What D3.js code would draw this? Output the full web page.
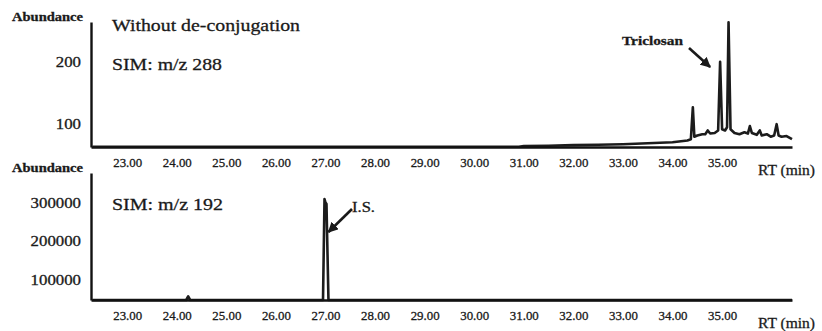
<!DOCTYPE html>
<html>
<head>
<meta charset="utf-8">
<script src="https://cdn.jsdelivr.net/npm/d3@7"></script>
<style>
  body { margin: 0; background: #fff; }
  svg { display: block; }
  text { font-family: "Liberation Serif", Tinos, "Times New Roman", Times, serif; fill: #1a1a1a; stroke: #1a1a1a; stroke-width: 0.3px; }
</style>
</head>
<body>
<svg id="chart"></svg>
<script>
// retention time ticks (min)
const rtTicks = [23, 24, 25, 26, 27, 28, 29, 30, 31, 32, 33, 34, 35];

// SIM m/z 288 trace (without de-conjugation)
const rt288 = [22.3, 30.9, 31.0, 31.5, 32.0, 32.5, 33.0, 33.5, 34.0, 34.3, 34.37, 34.41, 34.44, 34.5, 34.6, 34.66,
  34.71, 34.76, 34.85, 34.92, 34.96, 35.0, 35.06, 35.1, 35.13, 35.17, 35.25, 35.35, 35.45, 35.52, 35.56, 35.6,
  35.7, 35.76, 35.8, 35.9, 35.98, 36.05, 36.1, 36.14, 36.2, 36.3, 36.41];
const abund288 = [64, 64, 65, 65.5, 66.5, 67, 68, 69.5, 71, 74, 76, 127, 80, 82, 84, 84,
  90, 85, 86, 90, 200, 92, 90, 95, 263, 92, 86, 84, 87, 85, 97, 86,
  83, 90, 82, 84, 80, 82, 100, 82, 80, 81, 76];
const ticks288 = [100, 200];

// SIM m/z 192 trace (internal standard)
const rt192 = [22.3, 24.19, 24.23, 24.27, 26.95, 26.98, 27.0, 27.02, 27.06, 36.41];
const abund192 = [0, 0, 56000, 0, 0, 309000, 300000, 296000, 0, 0];
const ticks192 = [100000, 200000, 300000];

const width = 822, height = 331;
const svg = d3.select('#chart').attr('width', width).attr('height', height);

const x = d3.scaleLinear().domain([22.27, 36.41]).range([91, 792]);

function label(g, txt, xPos, yPos, len, size, bold) {
  return g.append('text')
    .attr('x', xPos).attr('y', yPos)
    .attr('textLength', len).attr('lengthAdjust', 'spacingAndGlyphs')
    .style('font-size', size + 'px')
    .style('font-weight', bold ? 'bold' : 'normal')
    .text(txt);
}

function panel(opts) {
  const y = d3.scaleLinear().domain(opts.yDomain).range(opts.yRange).clamp(true);
  const g = svg.append('g');

  const line = d3.line()
    .x(d => x(d[0]))
    .y(d => y(d[1]));

  g.append('path')
    .datum(d3.zip(opts.rt, opts.abund))
    .attr('d', line)
    .attr('fill', 'none')
    .attr('stroke', '#1c1c1c')
    .attr('stroke-width', 2.6)
    .attr('stroke-linejoin', 'round');

  // x axis
  const xa = g.append('g')
    .attr('transform', `translate(0,${opts.yRange[0]})`)
    .call(d3.axisBottom(x).tickValues(rtTicks).tickFormat(d3.format('.2f')).tickSize(0).tickPadding(10));
  xa.select('.domain').attr('stroke', '#111').attr('stroke-width', 2.4);
  xa.selectAll('text').style('font-size', '13.5px').attr('fill', '#1a1a1a')
    .attr('textLength', 29).attr('lengthAdjust', 'spacingAndGlyphs');

  // y axis
  const ya = g.append('g')
    .attr('transform', `translate(${x.range()[0]},0)`)
    .call(d3.axisLeft(y).tickValues(opts.yTicks).tickFormat(d3.format('d')).tickSize(0).tickPadding(10));
  ya.select('.domain').attr('stroke', '#111').attr('stroke-width', 2.4);
  ya.selectAll('text').style('font-size', '14.5px').attr('fill', '#1a1a1a')
    .attr('textLength', d => String(d).length * 8.4).attr('lengthAdjust', 'spacingAndGlyphs');

  label(g, 'Abundance', 12, opts.yRange[1] - 1, 71, 12.5, true);
  label(g, 'RT (min)', 758, opts.yRange[0] + 28, 57, 15, false);

  return { g, y };
}

const upper = panel({ rt: rt288, abund: abund288, yDomain: [63.5, 263.5], yRange: [147, 22], yTicks: ticks288 });
const lower = panel({ rt: rt192, abund: abund192, yDomain: [46750, 376600], yRange: [300, 173], yTicks: ticks192 });

label(upper.g, 'Without de-conjugation', 112, 31, 188, 17.5, false);
label(upper.g, 'SIM: m/z 288', 112, 70, 110, 17.5, false);
label(lower.g, 'SIM: m/z 192', 112, 210, 111, 17.5, false);

// arrow marker
svg.append('defs').append('marker')
  .attr('id', 'arr').attr('viewBox', '0 0 10 10').attr('refX', 9).attr('refY', 5)
  .attr('markerWidth', 4).attr('markerHeight', 4).attr('orient', 'auto')
  .append('path').attr('d', 'M0,0L10,5L0,10z').attr('fill', '#1a1a1a');

// Triclosan label
label(upper.g, 'Triclosan', 622, 45, 61, 13, true);
upper.g.append('line')
  .attr('x1', 689).attr('y1', 48).attr('x2', x(34.96) - 10).attr('y2', 67)
  .attr('stroke', '#1a1a1a').attr('stroke-width', 2.6).attr('marker-end', 'url(#arr)');

// I.S. label
label(lower.g, 'I.S.', 352, 212, 23, 14, false);
lower.g.append('line')
  .attr('x1', 352).attr('y1', 209).attr('x2', x(27.0) + 3).attr('y2', 232)
  .attr('stroke', '#1a1a1a').attr('stroke-width', 2.6).attr('marker-end', 'url(#arr)');
</script>
</body>
</html>
